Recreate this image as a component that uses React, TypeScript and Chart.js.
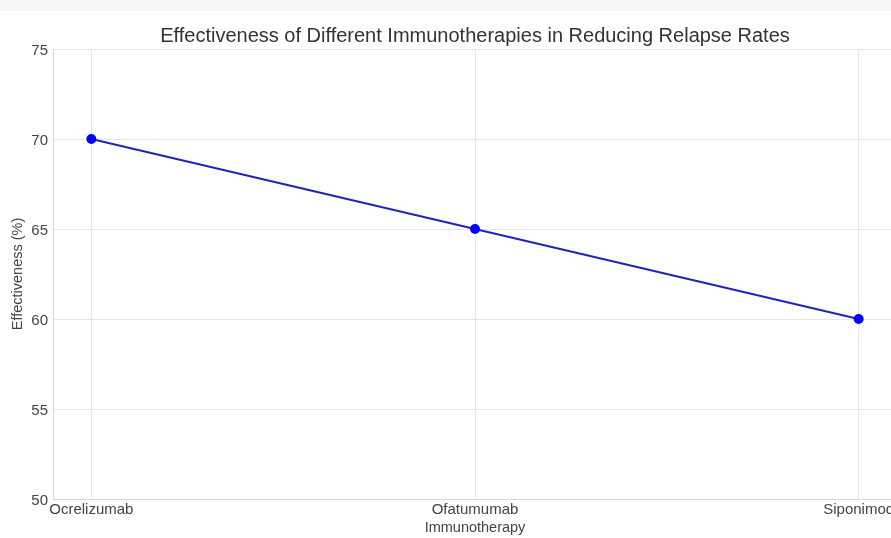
import React, { useEffect, useRef } from "react";
import { Chart, registerables } from "chart.js";

Chart.register(...registerables);

const categories = ["Ocrelizumab", "Ofatumumab", "Siponimod"];
const effectiveness = [70, 65, 60];
const yTicks = [50, 55, 60, 65, 70, 75];

const TITLE = "Effectiveness of Different Immunotherapies in Reducing Relapse Rates";
const FONT = "'Liberation Sans', Arial, sans-serif";

export default function App() {
  const ref = useRef<HTMLCanvasElement>(null);

  useEffect(() => {
    if (!ref.current) return;
    const chart = new Chart(ref.current, {
      type: "line",
      data: {
        datasets: [
          {
            data: effectiveness.map((v, i) => ({ x: i, y: v })),
            borderColor: "#2323b8",
            borderWidth: 2,
            pointBackgroundColor: "#0000ff",
            pointBorderColor: "#0000ff",
            pointRadius: 4,
            fill: false,
            tension: 0,
          },
        ],
      },
      options: {
        animation: false,
        responsive: false,
        layout: { padding: { left: 0, right: 0, top: 0, bottom: 0 } },
        plugins: {
          legend: { display: false },
          tooltip: { enabled: false },
          title: {
            display: true,
            text: TITLE,
            fullSize: false,
            color: "#333",
            font: { family: FONT, size: 20, weight: "normal", lineHeight: 1.2 },
            padding: { top: 24, bottom: 1 },
          },
        },
        scales: {
          x: {
            type: "linear",
            min: -0.1,
            max: 2.1,
            afterBuildTicks: (s: any) => {
              s.ticks = categories.map((_, i) => ({ value: i }));
            },
            afterFit: (s: any) => {
              s.height = 39;
              s.paddingLeft = 0;
              s.paddingRight = 0;
            },
            ticks: {
              callback: (v: any) => categories[v as number] ?? "",
              color: "#444",
              font: { family: FONT, size: 15 },
              padding: 2,
              maxRotation: 0,
              autoSkip: false,
            },
            grid: { color: "#e6e6e6", drawTicks: false, lineWidth: 1 },
            border: { color: "#d9d9d9" },
            title: {
              display: true,
              text: "Immunotherapy",
              color: "#444",
              font: { family: FONT, size: 14.5 },
              padding: { top: 0, bottom: 1.3 },
            },
          },
          y: {
            min: 50,
            max: 75,
            afterBuildTicks: (s: any) => {
              s.ticks = yTicks.map((v) => ({ value: v }));
            },
            afterFit: (s: any) => {
              s.width = 53;
            },
            ticks: {
              color: "#444",
              font: { family: FONT, size: 15 },
              padding: 5,
              labelOffset: 1.5,
            },
            grid: { color: "#e6e6e6", drawTicks: false, lineWidth: 1 },
            border: { color: "#d9d9d9" },
            title: {
              display: true,
              text: "Effectiveness (%)",
              color: "#444",
              font: { family: FONT, size: 14.5 },
              padding: { top: 9.3, bottom: 0 },
            },
          },
        },
      },
    });
    return () => chart.destroy();
  }, []);

  return (
    <div
      style={{
        position: "fixed",
        left: 0,
        top: 0,
        width: 891,
        height: 538,
        overflow: "hidden",
        background: "#fff",
      }}
    >
      <div style={{ position: "absolute", left: 0, top: 0, width: 891, height: 11, background: "#f6f6f6" }} />
      <canvas ref={ref} width={903} height={538} style={{ position: "absolute", left: 0, top: 0 }} />
    </div>
  );
}
